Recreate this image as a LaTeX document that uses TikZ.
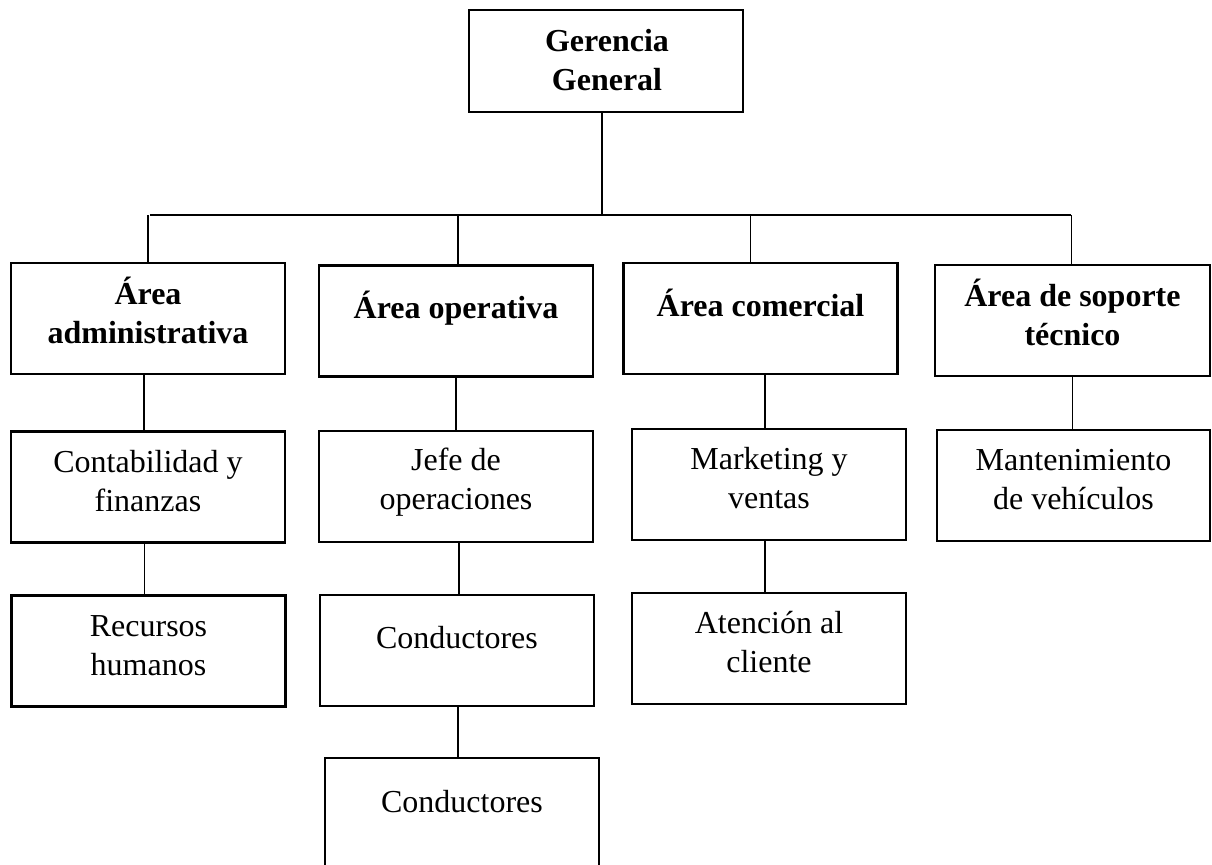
\documentclass[tikz,border=0pt]{standalone}
\usepackage{fontspec}
\setmainfont{Liberation Serif}
\usepackage{tikz}

\begin{document}
\begin{tikzpicture}[x=0.5pt,y=-0.5pt,
    box/.style={draw,line width=1.3pt,minimum width=137pt,minimum height=55.5pt,inner sep=0pt},
    head/.style={anchor=base,align=center,inner sep=0pt,font=\fontsize{16}{19.5}\selectfont\bfseries},
    unit/.style={anchor=base,align=center,inner sep=0pt,font=\fontsize{16}{19.5}\selectfont},
    link/.style={line width=0.6pt}]
  \clip (0,0) rectangle (1212,865);
  \fill [white] (0,0) rectangle (1212,865);

  % gerencia
  \node [box,minimum height=51pt] (gg) at (606,61) {};
  \node [head] (ggt) at (607,91) {Gerencia\\General};

  % areas (text placed by its last baseline)
  \node [box] (adm) at (148,318.5) {};
  \node [box] (ope) at (456,321) {};
  \node [box] (com) at (760.5,318.5) {};
  \node [box,minimum width=137.5pt] (sop) at (1072.5,320.5) {};
  \node [head] (admt) at (148,344) {Área\\administrativa};
  \node [head] (opet) at (456,319) {Área operativa};
  \node [head] (comt) at (760.5,317) {Área comercial};
  \node [head] (sopt) at (1072.5,345.5) {Área de soporte\\técnico};

  % second level
  \node [box] (con) at (148,487) {};
  \node [box] (jef) at (456,486.5) {};
  \node [box] (mkt) at (769,484.5) {};
  \node [box,minimum width=136.5pt] (man) at (1073.5,485.5) {};
  \node [unit] (cont) at (148,511.5) {Contabilidad y\\finanzas};
  \node [unit] (jeft) at (456,510) {Jefe de\\operaciones};
  \node [unit] (mktt) at (769,508.5) {Marketing y\\ventas};
  \node [unit] (mant) at (1073.5,510) {Mantenimiento\\de vehículos};

  % third level
  \node [box] (rrh) at (148.5,651) {};
  \node [box] (cd1) at (457,650.5) {};
  \node [box] (ate) at (769,648.5) {};
  \node [unit] (rrht) at (148.5,675.5) {Recursos\\humanos};
  \node [unit] (cd1t) at (457,649) {Conductores};
  \node [unit] (atet) at (769,673) {Atención al\\cliente};

  % fourth level, cut by the page edge
  \node [box,minimum height=71pt] (cd2) at (462,829) {};
  \node [unit] (cd2t) at (462,812.5) {Conductores};

  \coordinate (bus) at (602,215);
  \draw [link] (gg.south -| bus) -- (bus);
  \draw [link] (150,215) -- (1071,215);
  \draw [link] (adm.north) -- (adm.north |- bus);
  \draw [link] ([xshift=1pt]ope.north) -- ([xshift=1pt]ope.north |- bus);
  \draw [link] ([xshift=-5pt]com.north) -- ([xshift=-5pt]com.north |- bus);
  \draw [link] ([xshift=-0.5pt]sop.north) -- ([xshift=-0.5pt]sop.north |- bus);

  \draw [link] ([xshift=-2pt]con.north) -- ([xshift=-2pt]con.north |- adm.south);
  \draw [link] (jef.north) -- (jef.north |- ope.south);
  \draw [link] ([xshift=-2pt]mkt.north) -- ([xshift=-2pt]mkt.north |- com.south);
  \draw [link] ([xshift=-0.5pt]man.north) -- ([xshift=-0.5pt]man.north |- sop.south);

  \draw [link] ([xshift=-2pt]rrh.north) -- ([xshift=-2pt]rrh.north |- con.south);
  \draw [link] ([xshift=1pt]cd1.north) -- ([xshift=1pt]cd1.north |- jef.south);
  \draw [link] ([xshift=-2pt]ate.north) -- ([xshift=-2pt]ate.north |- mkt.south);
  \draw [link] ([xshift=-2pt]cd2.north) -- ([xshift=-2pt]cd2.north |- cd1.south);

\end{tikzpicture}
\end{document}
